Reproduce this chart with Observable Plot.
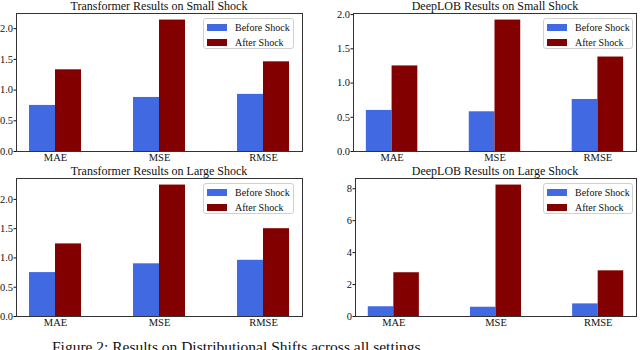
<!DOCTYPE html>
<html>
<head>
<meta charset="utf-8">
<script src="https://cdn.jsdelivr.net/npm/d3@7"></script>
<script src="https://cdn.jsdelivr.net/npm/@observablehq/plot@0.6"></script>
<style>
  html, body { margin: 0; padding: 0; background: #fff; }
  #root { position: relative; width: 640px; height: 350px; overflow: hidden; font-family: "Liberation Serif", "Times New Roman", serif; color: #111; }
  .panel { position: absolute; }
  .title { position: absolute; font-size: 12px; white-space: nowrap; transform: translateX(-50%); line-height: 1; }
  .legend { position: absolute; box-sizing: border-box; border: 1px solid #d0d0d0; border-radius: 3px; background: rgba(255,255,255,0.8); font-size: 10px; }
  .legend .row { position: absolute; left: 3px; height: 10px; display: flex; align-items: center; white-space: nowrap; }
  .legend .sw { width: 20px; height: 7px; margin-right: 8px; }
  .caption { position: absolute; left: 52px; top: 339px; font-size: 15.5px; white-space: nowrap; line-height: 1; }
</style>
</head>
<body>
<div id="root"></div>
<script>
// ---- data ----
const categories = ["MAE", "MSE", "RMSE"];
const seriesNames = ["Before Shock", "After Shock"];
const seriesColors = ["#4169e1", "#830000"];

const titles = [
  "Transformer Results on Small Shock",
  "DeepLOB Results on Small Shock",
  "Transformer Results on Large Shock",
  "DeepLOB Results on Large Shock"
];

const transformerSmallBefore = [0.75, 0.88, 0.93];
const transformerSmallAfter  = [1.33, 2.14, 1.46];
const deeplobSmallBefore     = [0.60, 0.58, 0.76];
const deeplobSmallAfter      = [1.25, 1.92, 1.38];
const transformerLargeBefore = [0.75, 0.90, 0.96];
const transformerLargeAfter  = [1.24, 2.245, 1.50];
const deeplobLargeBefore     = [0.61, 0.58, 0.79];
const deeplobLargeAfter      = [2.74, 8.23, 2.86];

const yTicksSmall = [0, 0.5, 1.0, 1.5, 2.0];
const yTicksLarge = [0, 2, 4, 6, 8];

const captionText = "Figure 2: Results on Distributional Shifts across all settings.";

// ---- layout (style only) ----
const panels = [
  {title: titles[0], before: transformerSmallBefore, after: transformerSmallAfter, ticks: yTicksSmall, fmt: d3.format(".1f"),
   left: 0, top: 0, mL: 16, mR: 18, mT: 13, mB: 14, titleX: 159, titleY: 0, leg: [203, 18, 91, 31]},
  {title: titles[1], before: deeplobSmallBefore, after: deeplobSmallAfter, ticks: yTicksSmall, fmt: d3.format(".1f"),
   left: 320, top: 0, mL: 33, mR: 4, mT: 13, mB: 14, titleX: 495, titleY: 0, leg: [543, 18, 90, 31]},
  {title: titles[2], before: transformerLargeBefore, after: transformerLargeAfter, ticks: yTicksSmall, fmt: d3.format(".1f"),
   left: 0, top: 165, mL: 16, mR: 18, mT: 13, mB: 14, titleX: 159, titleY: 165, leg: [203, 183, 91, 31]},
  {title: titles[3], before: deeplobLargeBefore, after: deeplobLargeAfter, ticks: yTicksLarge, fmt: d3.format("d"),
   left: 320, top: 165, mL: 35, mR: 4, mT: 13, mB: 14, titleX: 495, titleY: 165, leg: [543, 183, 90, 31]}
];

const root = document.getElementById("root");
const barWidth = 0.25;

for (const p of panels) {
  const rows = [];
  categories.forEach((c, i) => {
    rows.push({cat: c, idx: i, series: seriesNames[0], value: p.before[i], x1: i - barWidth, x2: i});
    rows.push({cat: c, idx: i, series: seriesNames[1], value: p.after[i], x1: i, x2: i + barWidth});
  });
  const ymax = d3.max(rows, d => d.value) * 1.05;
  const chart = Plot.plot({
    width: 320,
    height: 165,
    marginLeft: p.mL, marginRight: p.mR, marginTop: p.mT, marginBottom: p.mB,
    style: {fontFamily: "'Liberation Serif', 'Times New Roman', serif", fontSize: "10.5px", background: "transparent", color: "#111", overflow: "visible"},
    x: {type: "linear", domain: [-0.375, 2.375], ticks: [0, 1, 2], tickFormat: i => categories[i], tickSize: 0, tickPadding: 2, label: null},
    y: {domain: [0, ymax], ticks: p.ticks, tickFormat: p.fmt, tickSize: 2.5, tickPadding: 1, label: null},
    color: {domain: seriesNames, range: seriesColors},
    marks: [
      Plot.rect(rows, {x1: "x1", x2: "x2", y1: 0, y2: "value", fill: "series"}),
      Plot.frame({stroke: "#333", strokeWidth: 1})
    ]
  });
  chart.classList.add("panel");
  chart.style.left = p.left + "px";
  chart.style.top = p.top + "px";
  root.appendChild(chart);

  const t = document.createElement("div");
  t.className = "title";
  t.textContent = p.title;
  t.style.left = p.titleX + "px";
  t.style.top = p.titleY + "px";
  root.appendChild(t);

  const lg = document.createElement("div");
  lg.className = "legend";
  lg.style.left = p.leg[0] + "px";
  lg.style.top = p.leg[1] + "px";
  lg.style.width = p.leg[2] + "px";
  lg.style.height = p.leg[3] + "px";
  seriesNames.forEach((s, k) => {
    const r = document.createElement("div");
    r.className = "row";
    r.style.top = (3 + k * 15) + "px";
    const sw = document.createElement("span");
    sw.className = "sw";
    sw.style.background = seriesColors[k];
    const tx = document.createElement("span");
    tx.textContent = s;
    r.appendChild(sw);
    r.appendChild(tx);
    lg.appendChild(r);
  });
  root.appendChild(lg);
}

const cap = document.createElement("div");
cap.className = "caption";
cap.textContent = captionText;
root.appendChild(cap);
</script>
</body>
</html>
